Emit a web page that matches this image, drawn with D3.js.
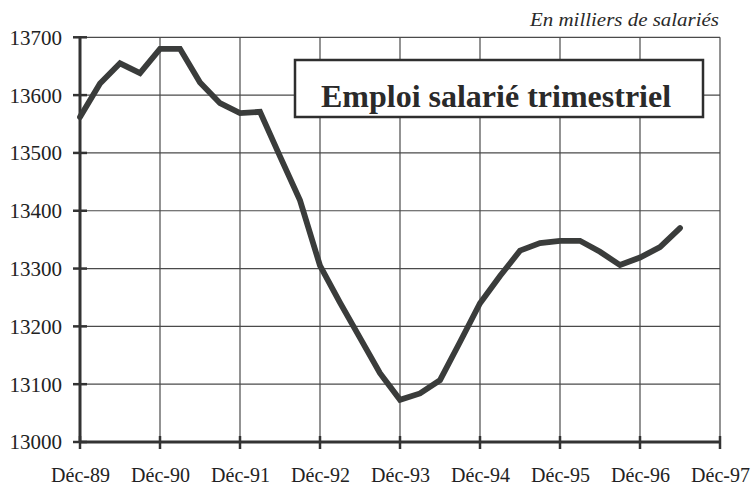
<!DOCTYPE html>
<html>
<head>
<meta charset="utf-8">
<script src="https://cdn.jsdelivr.net/npm/d3@7"></script>
</head>
<body style="margin:0; background:#ffffff">
<svg id="chart" width="752" height="487"></svg>
<script>
// Quarterly employment (thousands of employees), Dec-89 onwards
const quarterIndex = d3.range(31);
const employment = [
  13562, 13620, 13655, 13638, 13680, 13680, 13622, 13586, 13569, 13571,
  13494, 13418, 13305, 13241, 13180, 13119, 13073, 13084, 13107, 13173,
  13240, 13287, 13331, 13344, 13348, 13348, 13329, 13306, 13319, 13337,
  13370
];
const xTickLabels = ["Déc-89", "Déc-90", "Déc-91", "Déc-92", "Déc-93", "Déc-94", "Déc-95", "Déc-96", "Déc-97"];
const yTicks = [13000, 13100, 13200, 13300, 13400, 13500, 13600, 13700];
const titleText = "Emploi salarié trimestriel";
const unitText = "En milliers de salariés";

const svg = d3.select("#chart");
const pLeft = 80, pRight = 720, pTop = 37.3, pBottom = 442;
const x = d3.scaleLinear().domain([0, 32]).range([pLeft, pRight]);
const y = d3.scaleLinear().domain([13000, 13700]).range([pBottom, pTop]);

const ink = "#333333";
const serifFamily = "Liberation Serif";
const serifStack = "'Liberation Serif', Tinos, 'Times New Roman', serif";

function serifText(sel, size) {
  return sel.attr("font-family", serifFamily).attr("font-size", size)
    .style("font-family", serifStack, "important")
    .style("font-size", size + "px", "important");
}

// grid
const grid = svg.append("g");
grid.selectAll("line.h").data(yTicks).join("line")
  .attr("x1", pLeft).attr("x2", pRight)
  .attr("y1", d => y(d)).attr("y2", d => y(d))
  .attr("stroke", "#4a4a4a").attr("stroke-width", 1.2);
grid.selectAll("line.v").data(xTickLabels).join("line")
  .attr("x1", (d, i) => x(i * 4)).attr("x2", (d, i) => x(i * 4))
  .attr("y1", pTop).attr("y2", pBottom)
  .attr("stroke", "#4a4a4a").attr("stroke-width", 1.2);

// axes
const yAxis = d3.axisLeft(y).tickValues(yTicks).tickSize(0).tickFormat(d3.format("d"));
const gy = svg.append("g").attr("transform", "translate(" + pLeft + ",0)").call(yAxis);
gy.select(".domain").remove();
serifText(gy.selectAll("text").attr("x", -18).attr("dy", "0.33em").attr("fill", "#222"), 21);

const xAxis = d3.axisBottom(x).tickValues(xTickLabels.map((d, i) => i * 4))
  .tickSize(0).tickFormat((d, i) => xTickLabels[i]);
const gx = svg.append("g").attr("transform", "translate(0," + pBottom + ")").call(xAxis);
gx.select(".domain").remove();
serifText(gx.selectAll("text").attr("y", 40).attr("dy", 0).attr("fill", "#222"), 20);

// tick marks crossing the axes
svg.append("g").selectAll("line").data(yTicks).join("line")
  .attr("x1", pLeft - 7).attr("x2", pLeft + 7)
  .attr("y1", d => y(d)).attr("y2", d => y(d))
  .attr("stroke", ink).attr("stroke-width", 2.5);
svg.append("g").selectAll("line").data(xTickLabels).join("line")
  .attr("x1", (d, i) => x(i * 4)).attr("x2", (d, i) => x(i * 4))
  .attr("y1", pBottom - 6).attr("y2", pBottom + 7)
  .attr("stroke", ink).attr("stroke-width", 2.5);

// axis lines
svg.append("line").attr("x1", pLeft).attr("x2", pLeft).attr("y1", pTop - 1).attr("y2", pBottom + 1)
  .attr("stroke", ink).attr("stroke-width", 3);
svg.append("line").attr("x1", pLeft - 1).attr("x2", pRight + 1).attr("y1", pBottom).attr("y2", pBottom)
  .attr("stroke", ink).attr("stroke-width", 3);

// title box
svg.append("rect").attr("x", 295).attr("y", 60).attr("width", 408).attr("height", 57)
  .attr("fill", "#ffffff").attr("stroke", "#2e2e2e").attr("stroke-width", 2.5);
serifText(svg.append("text").attr("x", 496).attr("y", 106.5).attr("text-anchor", "middle")
  .attr("font-weight", "bold").attr("fill", "#2a2a2a").text(titleText), 32)
  .style("font-weight", "bold", "important");

// unit note
serifText(svg.append("text").attr("x", 719).attr("y", 25.7).attr("text-anchor", "end")
  .attr("textLength", 189).attr("lengthAdjust", "spacingAndGlyphs")
  .attr("font-style", "italic").attr("fill", "#2a2a2a").text(unitText), 19)
  .style("font-style", "italic", "important");

// series line
const line = d3.line().x((d, i) => x(quarterIndex[i])).y(d => y(d));
svg.append("path").datum(employment)
  .attr("d", line).attr("fill", "none")
  .attr("stroke", "#3a3c3b").attr("stroke-width", 5.8)
  .attr("stroke-linejoin", "miter").attr("stroke-linecap", "round");
</script>
</body>
</html>
